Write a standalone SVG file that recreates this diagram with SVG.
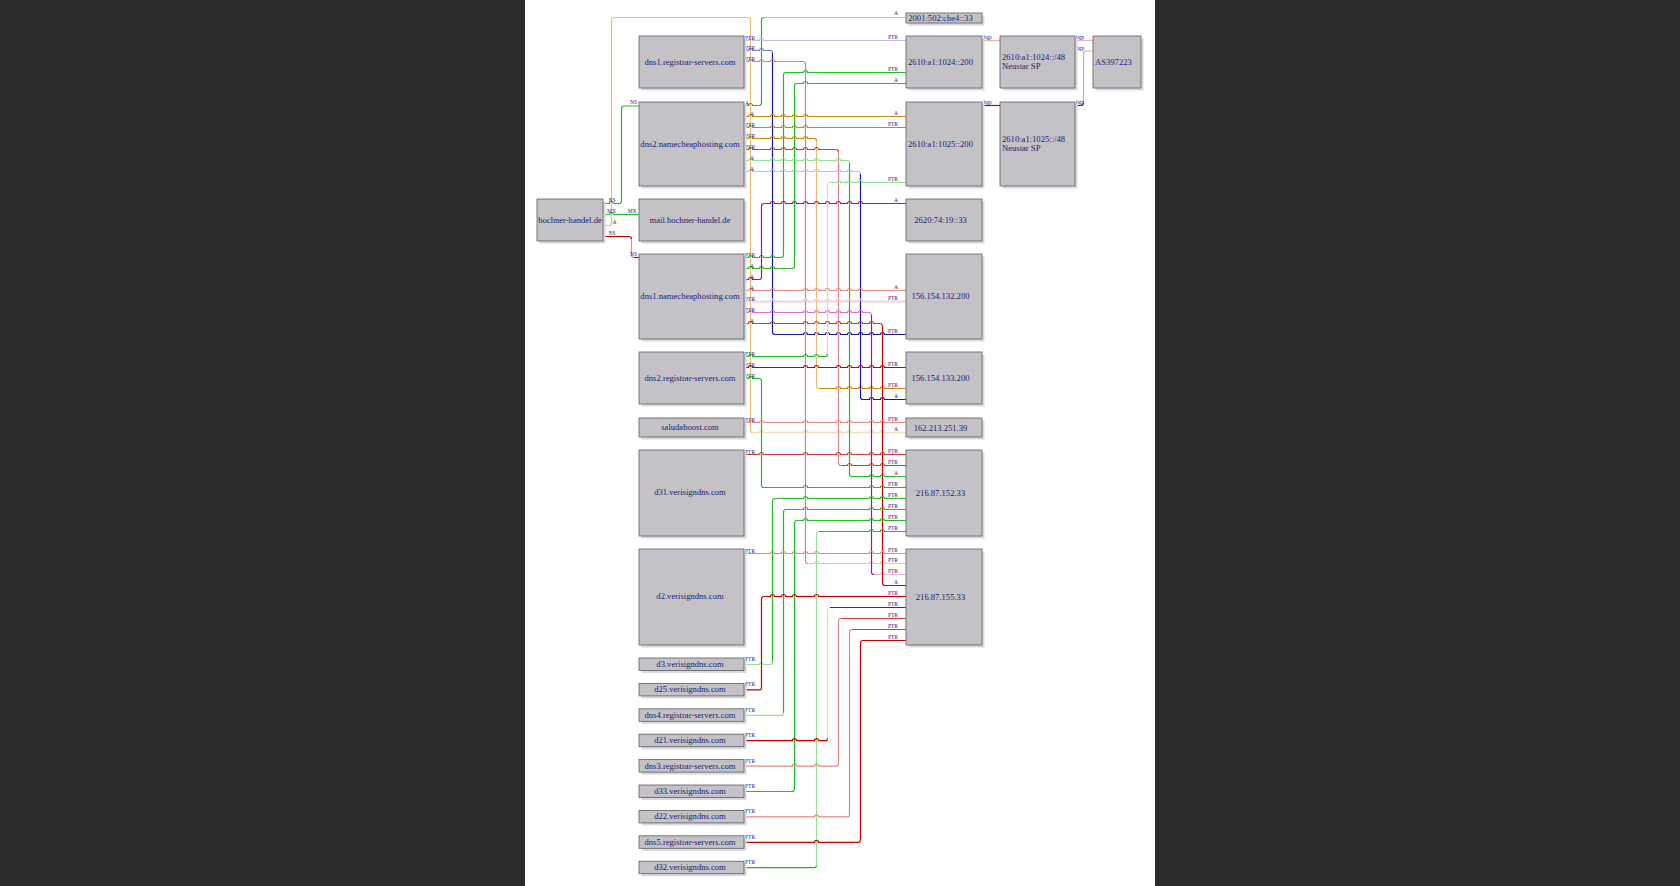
<svg xmlns="http://www.w3.org/2000/svg" width="1680" height="886" viewBox="0 0 1680 886">
<style>
.s{fill:#d9d8dc}
.b{fill:#c4c2c7;stroke:#5e5e5e;stroke-width:0.8}
.t{font-family:"Liberation Serif","Times New Roman",serif;font-size:8.6px;fill:#1a1a74}
.tc{text-anchor:middle}
.l{font-family:"Liberation Serif","Times New Roman",serif;font-size:5.5px;fill:#20208a}
.le{text-anchor:end}
#edges path{fill:none;stroke-width:1.2}
.g{stroke:#22bb22}.lg{stroke:#94e094}.vlg{stroke:#c4ecc4}
.r{stroke:#c80000}.rr{stroke:#d03a3a}.lr{stroke:#e48888}.vlr{stroke:#f4d2d2}
.m{stroke:#c000a0}.p{stroke:#e070c8}.lp{stroke:#f0b4e0}
.bl{stroke:#1818a0}.mb{stroke:#7a7ac4}.lb{stroke:#bcbce4}
.o{stroke:#c8860c}.lo{stroke:#e6be78}.vlo{stroke:#efe0c0}
</style>
<rect x="0" y="0" width="1680" height="886" fill="#2a2a2a"/>
<rect x="525" y="0" width="630" height="886" fill="#ffffff"/>

<g id="edges">
<path class="lo" d="M605 225.5H609q2.5 0 2.5-2.5V20q0-2.5 2.5-2.5H748q2.5 0 2.5 2.5V430q0 2.5 2.5 2.5"/>
<path class="vlo" style="stroke-width:1.6" d="M753 432.5H759.5a2 2 0 0 1 4 0H803.5a2 2 0 0 1 4 0H836.5a2 2 0 0 1 4 0H847.5a2 2 0 0 1 4 0H869.5a2 2 0 0 1 4 0H880.5a2 2 0 0 1 4 0H906"/>
<path class="g" d="M744 105.5H748.5a2 2 0 0 1 4 0H759q2.5 0 2.5-2.5V20q0-2.5 2.5-2.5"/>
<path class="lg" d="M764 17.5H906"/>
<path class="lb" d="M744 40.5H748.5a2 2 0 0 1 4 0H759.5a2 2 0 0 1 4 0H906"/>
<path class="mb" d="M744 50.5H748.5a2 2 0 0 1 4 0H759.5a2 2 0 0 1 4 0H770q2.5 0 2.5 2.5"/>
<path class="bl" d="M772.5 53V332q0 2.5 2.5 2.5H803.5a2 2 0 0 1 4 0H814.5a2 2 0 0 1 4 0H825.5a2 2 0 0 1 4 0H836.5a2 2 0 0 1 4 0H847.5a2 2 0 0 1 4 0H858.5a2 2 0 0 1 4 0H869.5a2 2 0 0 1 4 0H880.5a2 2 0 0 1 4 0H906"/>
<path class="p" d="M744 61.5H748.5a2 2 0 0 1 4 0H759.5a2 2 0 0 1 4 0H770.5a2 2 0 0 1 4 0H803q2.5 0 2.5 2.5V561q0 2.5 2.5 2.5"/>
<path class="lp" d="M808 563.5H814.5a2 2 0 0 1 4 0H869.5a2 2 0 0 1 4 0H880.5a2 2 0 0 1 4 0H906"/>
<path class="g" d="M744 257.5H748.5a2 2 0 0 1 4 0H759.5a2 2 0 0 1 4 0H770.5a2 2 0 0 1 4 0H781q2.5 0 2.5-2.5V75q0-2.5 2.5-2.5H803.5a2 2 0 0 1 4 0H906"/>
<path class="g" d="M744 268.5H748.5a2 2 0 0 1 4 0H759.5a2 2 0 0 1 4 0H770.5a2 2 0 0 1 4 0H792q2.5 0 2.5-2.5V86q0-2.5 2.5-2.5H803.5a2 2 0 0 1 4 0H906"/>
<path class="o" d="M744 116.5H748.5a2 2 0 0 1 4 0H770.5a2 2 0 0 1 4 0H781.5a2 2 0 0 1 4 0H792.5a2 2 0 0 1 4 0H803.5a2 2 0 0 1 4 0H906"/>
<path class="o" d="M744 127.5H748.5a2 2 0 0 1 4 0H770.5a2 2 0 0 1 4 0H781.5a2 2 0 0 1 4 0H792.5a2 2 0 0 1 4 0H803.5a2 2 0 0 1 4 0H906"/>
<path class="o" d="M744 138.5H748.5a2 2 0 0 1 4 0H770.5a2 2 0 0 1 4 0H781.5a2 2 0 0 1 4 0H792.5a2 2 0 0 1 4 0H803.5a2 2 0 0 1 4 0H814q2.5 0 2.5 2.5"/>
<path class="lo" d="M816.5 141V386q0 2.5 2.5 2.5"/>
<path class="o" d="M819 388.5H836.5a2 2 0 0 1 4 0H847.5a2 2 0 0 1 4 0H858.5a2 2 0 0 1 4 0H869.5a2 2 0 0 1 4 0H880.5a2 2 0 0 1 4 0H906"/>
<path class="rr" d="M744 149.5H748.5a2 2 0 0 1 4 0H770.5a2 2 0 0 1 4 0H781.5a2 2 0 0 1 4 0H792.5a2 2 0 0 1 4 0H803.5a2 2 0 0 1 4 0H814.5a2 2 0 0 1 4 0H836q2.5 0 2.5 2.5"/>
<path class="lr" d="M838.5 152V463q0 2.5 2.5 2.5"/>
<path class="rr" d="M841 465.5H847.5a2 2 0 0 1 4 0H869.5a2 2 0 0 1 4 0H880.5a2 2 0 0 1 4 0H906"/>
<path class="lg" d="M744 160.5H748.5a2 2 0 0 1 4 0H770.5a2 2 0 0 1 4 0H781.5a2 2 0 0 1 4 0H792.5a2 2 0 0 1 4 0H803.5a2 2 0 0 1 4 0H814.5a2 2 0 0 1 4 0H836.5a2 2 0 0 1 4 0H847q2.5 0 2.5 2.5"/>
<path class="g" d="M849.5 163V474q0 2.5 2.5 2.5H869.5a2 2 0 0 1 4 0H880.5a2 2 0 0 1 4 0H906"/>
<path class="lb" d="M744 171.5H748.5a2 2 0 0 1 4 0H770.5a2 2 0 0 1 4 0H781.5a2 2 0 0 1 4 0H792.5a2 2 0 0 1 4 0H803.5a2 2 0 0 1 4 0H814.5a2 2 0 0 1 4 0H836.5a2 2 0 0 1 4 0H847.5a2 2 0 0 1 4 0H858q2.5 0 2.5 2.5"/>
<path class="bl" d="M860.5 174V397q0 2.5 2.5 2.5H869.5a2 2 0 0 1 4 0H880.5a2 2 0 0 1 4 0H906"/>
<path class="g" d="M744 356.5H748.5a2 2 0 0 1 4 0H803.5a2 2 0 0 1 4 0H814.5a2 2 0 0 1 4 0H825q2.5 0 2.5-2.5"/>
<path class="vlg" d="M827.5 354V185q0-2.5 2.5-2.5"/>
<path class="lg" d="M830 182.5H836.5a2 2 0 0 1 4 0H847.5a2 2 0 0 1 4 0H858.5a2 2 0 0 1 4 0H906"/>
<path class="m" d="M744 279.5H748.5a2 2 0 0 1 4 0H759q2.5 0 2.5-2.5V206q0-2.5 2.5-2.5H770.5a2 2 0 0 1 4 0H781.5a2 2 0 0 1 4 0H792.5a2 2 0 0 1 4 0H803.5a2 2 0 0 1 4 0H814.5a2 2 0 0 1 4 0H825.5a2 2 0 0 1 4 0H836.5a2 2 0 0 1 4 0H847.5a2 2 0 0 1 4 0H858.5a2 2 0 0 1 4 0H906"/>
<path class="g" d="M605 203.5H609.5a2 2 0 0 1 4 0H619q2.5 0 2.5-2.5V108.5q0-2.5 2.5-2.5H639"/>
<path class="g" d="M605 214.5H609.5a2 2 0 0 1 4 0H639"/>
<path class="r" d="M605 236.5H629q2.5 0 2.5 2.5"/>
<path class="lr" d="M631.5 239V255q0 2.5 2.5 2.5"/>
<path class="r" d="M634 257.5H639"/>
<path class="lr" d="M744 290.5H748.5a2 2 0 0 1 4 0H770.5a2 2 0 0 1 4 0H803.5a2 2 0 0 1 4 0H814.5a2 2 0 0 1 4 0H825.5a2 2 0 0 1 4 0H836.5a2 2 0 0 1 4 0H847.5a2 2 0 0 1 4 0H858.5a2 2 0 0 1 4 0H906"/>
<path class="vlr" style="stroke-width:1.8" d="M744 301.5H748.5a2 2 0 0 1 4 0H770.5a2 2 0 0 1 4 0H803.5a2 2 0 0 1 4 0H814.5a2 2 0 0 1 4 0H825.5a2 2 0 0 1 4 0H836.5a2 2 0 0 1 4 0H847.5a2 2 0 0 1 4 0H858.5a2 2 0 0 1 4 0H906"/>
<path class="p" d="M744 312.5H748.5a2 2 0 0 1 4 0H770.5a2 2 0 0 1 4 0H803.5a2 2 0 0 1 4 0H814.5a2 2 0 0 1 4 0H825.5a2 2 0 0 1 4 0H836.5a2 2 0 0 1 4 0H847.5a2 2 0 0 1 4 0H858.5a2 2 0 0 1 4 0H869q2.5 0 2.5 2.5"/>
<path class="m" d="M871.5 315V572q0 2.5 2.5 2.5"/>
<path class="lp" d="M874 574.5H880.5a2 2 0 0 1 4 0H906"/>
<path class="rr" d="M744 323.5H748.5a2 2 0 0 1 4 0H770.5a2 2 0 0 1 4 0H803.5a2 2 0 0 1 4 0H814.5a2 2 0 0 1 4 0H825.5a2 2 0 0 1 4 0H836.5a2 2 0 0 1 4 0H847.5a2 2 0 0 1 4 0H858.5a2 2 0 0 1 4 0H869.5a2 2 0 0 1 4 0H880q2.5 0 2.5 2.5"/>
<path class="r" d="M882.5 326V583q0 2.5 2.5 2.5H906"/>
<path class="r" d="M744 367.5H748.5a2 2 0 0 1 4 0H803.5a2 2 0 0 1 4 0H814.5a2 2 0 0 1 4 0H836.5a2 2 0 0 1 4 0H847.5a2 2 0 0 1 4 0H858.5a2 2 0 0 1 4 0H869.5a2 2 0 0 1 4 0H880.5a2 2 0 0 1 4 0H906"/>
<path class="g" d="M744 378.5H748.5a2 2 0 0 1 4 0H759q2.5 0 2.5 2.5V485q0 2.5 2.5 2.5H803.5a2 2 0 0 1 4 0H869.5a2 2 0 0 1 4 0H880.5a2 2 0 0 1 4 0H906"/>
<path class="lr" d="M744 422.5H748.5a2 2 0 0 1 4 0H759.5a2 2 0 0 1 4 0H803.5a2 2 0 0 1 4 0H836.5a2 2 0 0 1 4 0H847.5a2 2 0 0 1 4 0H869.5a2 2 0 0 1 4 0H880.5a2 2 0 0 1 4 0H906"/>
<path class="rr" d="M744 454.5H759.5a2 2 0 0 1 4 0H803.5a2 2 0 0 1 4 0H836.5a2 2 0 0 1 4 0H847.5a2 2 0 0 1 4 0H869.5a2 2 0 0 1 4 0H880.5a2 2 0 0 1 4 0H906"/>
<path class="lg" d="M744 664.5H759.5a2 2 0 0 1 4 0H770q2.5 0 2.5-2.5"/>
<path class="g" d="M772.5 662V501q0-2.5 2.5-2.5H803.5a2 2 0 0 1 4 0H869.5a2 2 0 0 1 4 0H880.5a2 2 0 0 1 4 0H906"/>
<path class="lg" d="M744 715.3H781q2.5 0 2.5-2.5"/>
<path class="g" d="M783.5 712.8V512q0-2.5 2.5-2.5H803.5a2 2 0 0 1 4 0H869.5a2 2 0 0 1 4 0H880.5a2 2 0 0 1 4 0H906"/>
<path class="g" d="M744 791.5H792q2.5 0 2.5-2.5V523q0-2.5 2.5-2.5H803.5a2 2 0 0 1 4 0H869.5a2 2 0 0 1 4 0H880.5a2 2 0 0 1 4 0H906"/>
<path class="g" d="M744 867.7H814q2.5 0 2.5-2.5"/>
<path class="lg" d="M816.5 865.2V534q0-2.5 2.5-2.5"/>
<path class="g" d="M819 531.5H869.5a2 2 0 0 1 4 0H880.5a2 2 0 0 1 4 0H906"/>
<path class="lr" d="M744 553.5H770.5a2 2 0 0 1 4 0H781.5a2 2 0 0 1 4 0H792.5a2 2 0 0 1 4 0H803.5a2 2 0 0 1 4 0H814.5a2 2 0 0 1 4 0H869.5a2 2 0 0 1 4 0H880.5a2 2 0 0 1 4 0H906"/>
<path class="r" d="M744 689.9H759q2.5 0 2.5-2.5V599q0-2.5 2.5-2.5H770.5a2 2 0 0 1 4 0H781.5a2 2 0 0 1 4 0H792.5a2 2 0 0 1 4 0H814.5a2 2 0 0 1 4 0H906"/>
<path class="r" d="M744 740.7H792.5a2 2 0 0 1 4 0H814.5a2 2 0 0 1 4 0H825q2.5 0 2.5-2.5"/>
<path class="vlr" d="M827.5 738.2V610q0-2.5 2.5-2.5"/>
<path class="r" d="M830 607.5H906"/>
<path class="lr" d="M744 766.1H792.5a2 2 0 0 1 4 0H814.5a2 2 0 0 1 4 0H836q2.5 0 2.5-2.5V621q0-2.5 2.5-2.5"/>
<path class="rr" d="M841 618.5H906"/>
<path class="lr" d="M744 816.9H814.5a2 2 0 0 1 4 0H847q2.5 0 2.5-2.5V632q0-2.5 2.5-2.5"/>
<path class="rr" d="M852 629.5H906"/>
<path class="r" d="M744 842.3H814.5a2 2 0 0 1 4 0H858q2.5 0 2.5-2.5V643q0-2.5 2.5-2.5H906"/>
<path class="vlr" style="stroke:#f0b0b0" d="M982 40.5H1000"/>
<path class="r" d="M982 105.5H1000"/>
<path class="vlr" style="stroke:#f0b0b0" d="M1075 40.5H1093"/>
<path class="r" d="M1075 105.5H1081q2.5 0 2.5-2.5"/>
<path class="lr" style="stroke:#eaa0a0" d="M1083.5 103V53.5q0-2.5 2.5-2.5H1093"/>

<g id="edge-labels">
<text class="l" x="608.5" y="201.5">NS</text>
<text class="l" x="607" y="213">MX</text>
<text class="l" x="612.5" y="223.5">A</text>
<text class="l" x="608.5" y="234.5">NS</text>
<text class="l le" x="637" y="104">NS</text>
<text class="l le" x="636.5" y="213">MX</text>
<text class="l le" x="637" y="256">NS</text>

<text class="l" x="745" y="39.5">PTR</text>
<text class="l" x="745" y="49.5">PTR</text>
<text class="l" x="745" y="60.5">PTR</text>
<text class="l" x="745" y="104.5">A</text>
<text class="l" x="750" y="115.5">A</text>
<text class="l" x="745" y="126.5">PTR</text>
<text class="l" x="745" y="137.5">PTR</text>
<text class="l" x="745" y="148.5">PTR</text>
<text class="l" x="750" y="159.5">A</text>
<text class="l" x="750" y="170.5">A</text>
<text class="l" x="745" y="256.5">PTR</text>
<text class="l" x="750" y="267.5">A</text>
<text class="l" x="750" y="278.5">A</text>
<text class="l" x="750" y="289.5">A</text>
<text class="l" x="745" y="300.5">PTR</text>
<text class="l" x="745" y="311.5">PTR</text>
<text class="l" x="750" y="322.5">A</text>
<text class="l" x="745" y="355.5">PTR</text>
<text class="l" x="745" y="366.5">PTR</text>
<text class="l" x="745" y="377.5">PTR</text>
<text class="l" x="745" y="421.5">PTR</text>
<text class="l" x="745" y="453.5">PTR</text>
<text class="l" x="745" y="552.5">PTR</text>
<text class="l" x="745" y="661">PTR</text>
<text class="l" x="745" y="686.4">PTR</text>
<text class="l" x="745" y="711.8">PTR</text>
<text class="l" x="745" y="737.2">PTR</text>
<text class="l" x="745" y="762.6">PTR</text>
<text class="l" x="745" y="788">PTR</text>
<text class="l" x="745" y="813.4">PTR</text>
<text class="l" x="745" y="838.8">PTR</text>
<text class="l" x="745" y="864.2">PTR</text>

<text class="l le" x="898" y="15.3">A</text>
<text class="l le" x="898" y="39">PTR</text>
<text class="l le" x="898" y="71">PTR</text>
<text class="l le" x="898" y="82">A</text>
<text class="l le" x="898" y="115">A</text>
<text class="l le" x="898" y="126">PTR</text>
<text class="l le" x="898" y="181">PTR</text>
<text class="l le" x="898" y="202">A</text>
<text class="l le" x="898" y="289">A</text>
<text class="l le" x="898" y="300">PTR</text>
<text class="l le" x="898" y="333">PTR</text>
<text class="l le" x="898" y="366">PTR</text>
<text class="l le" x="898" y="387">PTR</text>
<text class="l le" x="898" y="398">A</text>
<text class="l le" x="898" y="421">PTR</text>
<text class="l le" x="898" y="431">A</text>
<text class="l le" x="898" y="453">PTR</text>
<text class="l le" x="898" y="464">PTR</text>
<text class="l le" x="898" y="475">A</text>
<text class="l le" x="898" y="486">PTR</text>
<text class="l le" x="898" y="497">PTR</text>
<text class="l le" x="898" y="508">PTR</text>
<text class="l le" x="898" y="519">PTR</text>
<text class="l le" x="898" y="530">PTR</text>
<text class="l le" x="898" y="552">PTR</text>
<text class="l le" x="898" y="562">PTR</text>
<text class="l le" x="898" y="573">PTR</text>
<text class="l le" x="898" y="584">A</text>
<text class="l le" x="898" y="595">PTR</text>
<text class="l le" x="898" y="606">PTR</text>
<text class="l le" x="898" y="617">PTR</text>
<text class="l le" x="898" y="628">PTR</text>
<text class="l le" x="898" y="639">PTR</text>

<text class="l" x="983.5" y="39">bgp</text>
<text class="l" x="983.5" y="104">bgp</text>
<text class="l" x="1076" y="39">bgp</text>
<text class="l" x="1076" y="50">bgp</text>
<text class="l" x="1076" y="104">bgp</text>
</g>
</g>

<g id="bochner-handel.de"><rect class="s" x="539.5" y="201.5" width="66" height="42"/><rect class="b" x="537" y="199" width="66" height="42"/><text class="t tc" x="570" y="223">bochner-handel.de</text></g>

<g id="dns1.registrar-servers.com"><rect class="s" x="641.5" y="38.5" width="105" height="52"/><rect class="b" x="639" y="36" width="105" height="52"/><text class="t tc" x="690" y="65">dns1.registrar-servers.com</text></g>
<g id="dns2.namecheaphosting.com"><rect class="s" x="641.5" y="104.5" width="105" height="84"/><rect class="b" x="639" y="102" width="105" height="84"/><text class="t tc" x="690" y="146.5">dns2.namecheaphosting.com</text></g>
<g id="mail.bochner-handel.de"><rect class="s" x="641.5" y="201.5" width="105" height="42"/><rect class="b" x="639" y="199" width="105" height="42"/><text class="t tc" x="690" y="223">mail.bochner-handel.de</text></g>
<g id="dns1.namecheaphosting.com"><rect class="s" x="641.5" y="256.5" width="105" height="85"/><rect class="b" x="639" y="254" width="105" height="85"/><text class="t tc" x="690" y="299">dns1.namecheaphosting.com</text></g>
<g id="dns2.registrar-servers.com"><rect class="s" x="641.5" y="354.5" width="105" height="52"/><rect class="b" x="639" y="352" width="105" height="52"/><text class="t tc" x="690" y="380.7">dns2.registrar-servers.com</text></g>
<g id="saludaboost.com"><rect class="s" x="641.5" y="420.5" width="105" height="19"/><rect class="b" x="639" y="418" width="105" height="19"/><text class="t tc" x="690" y="430.3">saludaboost.com</text></g>
<g id="d31.verisigndns.com"><rect class="s" x="641.5" y="452.5" width="105" height="86"/><rect class="b" x="639" y="450" width="105" height="86"/><text class="t tc" x="690" y="495.3">d31.verisigndns.com</text></g>
<g id="d2.verisigndns.com"><rect class="s" x="641.5" y="551.5" width="105" height="96"/><rect class="b" x="639" y="549" width="105" height="96"/><text class="t tc" x="690" y="599.3">d2.verisigndns.com</text></g>
<g id="d3.verisigndns.com"><rect class="s" x="641.5" y="660.5" width="105" height="12.5"/><rect class="b" x="639" y="658" width="105" height="12.5"/><text class="t tc" x="690" y="667">d3.verisigndns.com</text></g>
<g id="d25.verisigndns.com"><rect class="s" x="641.5" y="685.9" width="105" height="12.5"/><rect class="b" x="639" y="683.4" width="105" height="12.5"/><text class="t tc" x="690" y="692.4">d25.verisigndns.com</text></g>
<g id="dns4.registrar-servers.com"><rect class="s" x="641.5" y="711.3" width="105" height="12.5"/><rect class="b" x="639" y="708.8" width="105" height="12.5"/><text class="t tc" x="690" y="717.8">dns4.registrar-servers.com</text></g>
<g id="d21.verisigndns.com"><rect class="s" x="641.5" y="736.7" width="105" height="12.5"/><rect class="b" x="639" y="734.2" width="105" height="12.5"/><text class="t tc" x="690" y="743.2">d21.verisigndns.com</text></g>
<g id="dns3.registrar-servers.com"><rect class="s" x="641.5" y="762.1" width="105" height="12.5"/><rect class="b" x="639" y="759.6" width="105" height="12.5"/><text class="t tc" x="690" y="768.6">dns3.registrar-servers.com</text></g>
<g id="d33.verisigndns.com"><rect class="s" x="641.5" y="787.5" width="105" height="12.5"/><rect class="b" x="639" y="785" width="105" height="12.5"/><text class="t tc" x="690" y="794">d33.verisigndns.com</text></g>
<g id="d22.verisigndns.com"><rect class="s" x="641.5" y="812.9" width="105" height="12.5"/><rect class="b" x="639" y="810.4" width="105" height="12.5"/><text class="t tc" x="690" y="819.4">d22.verisigndns.com</text></g>
<g id="dns5.registrar-servers.com"><rect class="s" x="641.5" y="838.3" width="105" height="12.5"/><rect class="b" x="639" y="835.8" width="105" height="12.5"/><text class="t tc" x="690" y="844.8">dns5.registrar-servers.com</text></g>
<g id="d32.verisigndns.com"><rect class="s" x="641.5" y="863.7" width="105" height="12.5"/><rect class="b" x="639" y="861.2" width="105" height="12.5"/><text class="t tc" x="690" y="870.2">d32.verisigndns.com</text></g>

<g id="ip-2001-502-cbe4--33"><rect class="s" x="908.5" y="15.5" width="76" height="10"/><rect class="b" x="906" y="13" width="76" height="10"/><text class="t tc" x="940.5" y="20.8">2001:502:cbe4::33</text></g>
<g id="ip-2610-a1-1024--200"><rect class="s" x="908.5" y="38.5" width="76" height="52"/><rect class="b" x="906" y="36" width="76" height="52"/><text class="t tc" x="940.5" y="65">2610:a1:1024::200</text></g>
<g id="ip-2610-a1-1025--200"><rect class="s" x="908.5" y="104.5" width="76" height="84"/><rect class="b" x="906" y="102" width="76" height="84"/><text class="t tc" x="940.5" y="147">2610:a1:1025::200</text></g>
<g id="ip-2620-74-19--33"><rect class="s" x="908.5" y="201.5" width="76" height="42"/><rect class="b" x="906" y="199" width="76" height="42"/><text class="t tc" x="940.5" y="223">2620:74:19::33</text></g>
<g id="ip-156.154.132.200"><rect class="s" x="908.5" y="256.5" width="76" height="85"/><rect class="b" x="906" y="254" width="76" height="85"/><text class="t tc" x="940.5" y="299">156.154.132.200</text></g>
<g id="ip-156.154.133.200"><rect class="s" x="908.5" y="354.5" width="76" height="52"/><rect class="b" x="906" y="352" width="76" height="52"/><text class="t tc" x="940.5" y="381">156.154.133.200</text></g>
<g id="ip-162.213.251.39"><rect class="s" x="908.5" y="420.5" width="76" height="19"/><rect class="b" x="906" y="418" width="76" height="19"/><text class="t tc" x="940.5" y="430.5">162.213.251.39</text></g>
<g id="ip-216.87.152.33"><rect class="s" x="908.5" y="452.5" width="76" height="86"/><rect class="b" x="906" y="450" width="76" height="86"/><text class="t tc" x="940.5" y="496">216.87.152.33</text></g>
<g id="ip-216.87.155.33"><rect class="s" x="908.5" y="551.5" width="76" height="96"/><rect class="b" x="906" y="549" width="76" height="96"/><text class="t tc" x="940.5" y="600">216.87.155.33</text></g>

<g id="net-2610-a1-1024--48"><rect class="s" x="1002.5" y="38.5" width="75" height="52"/><rect class="b" x="1000" y="36" width="75" height="52"/><text class="t" x="1002" y="60">2610:a1:1024::/48</text><text class="t" x="1002" y="69">Neustar SP</text></g>
<g id="net-2610-a1-1025--48"><rect class="s" x="1002.5" y="104.5" width="75" height="84"/><rect class="b" x="1000" y="102" width="75" height="84"/><text class="t" x="1002" y="142">2610:a1:1025::/48</text><text class="t" x="1002" y="151">Neustar SP</text></g>
<g id="AS397223"><rect class="s" x="1095.5" y="38.5" width="48" height="52"/><rect class="b" x="1093" y="36" width="48" height="52"/><text class="t" x="1095" y="65">AS397223</text></g>
</svg>
